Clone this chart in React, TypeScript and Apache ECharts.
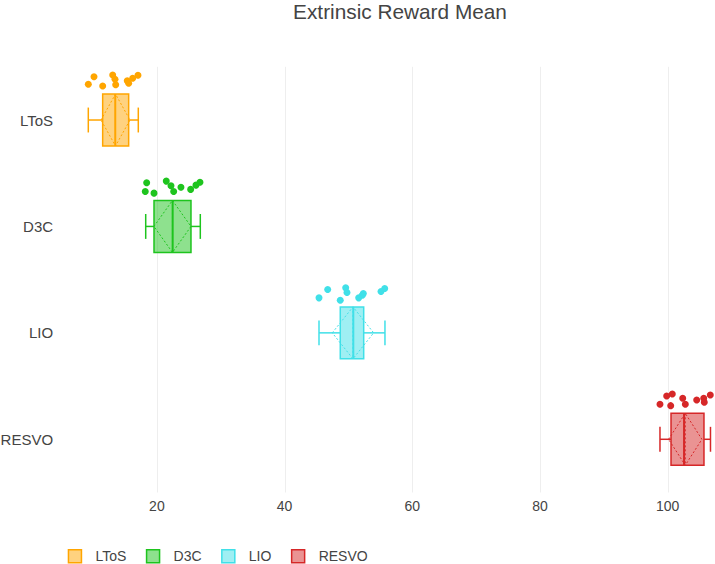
import React, { useEffect, useRef } from 'react';
import * as echarts from 'echarts';

const FONT = '"Liberation Sans", Arial, sans-serif';

const CATEGORIES = ['LToS', 'D3C', 'LIO', 'RESVO'];
const COLORS = ['rgb(255,165,0)', 'rgb(30,196,30)', 'rgb(64,224,232)', 'rgb(214,39,40)'];
const FILLS = ['rgba(255,165,0,0.5)', 'rgba(30,196,30,0.5)', 'rgba(64,224,232,0.5)', 'rgba(214,39,40,0.5)'];

const X_TICKS = [20, 40, 60, 80, 100];

// Box statistics per category
const WHISKER_LOW = [9.26, 18.25, 45.39, 98.79];
const Q1 = [11.51, 19.55, 48.72, 100.52];
const MEDIAN = [13.48, 22.47, 50.76, 102.56];
const Q3 = [15.58, 25.34, 52.39, 105.68];
const WHISKER_HIGH = [17.09, 26.8, 55.72, 106.7];
const MEAN = [13.52, 22.44, 50.71, 102.75];
const SD = [2.27, 2.9, 3.24, 2.61];

// Individual points and their vertical jitter (in category-band units)
const LTOS_POINTS = [9.26, 10.15, 11.51, 13.08, 13.44, 13.55, 15.36, 15.58, 16.21, 17.04];
const LTOS_JITTER = [-0.336, -0.407, -0.32, -0.423, -0.383, -0.332, -0.369, -0.345, -0.392, -0.42];
const D3C_POINTS = [18.4, 18.18, 19.55, 21.47, 22.21, 22.63, 23.77, 25.29, 26.12, 26.75];
const D3C_JITTER = [-0.41, -0.329, -0.313, -0.426, -0.382, -0.329, -0.369, -0.348, -0.388, -0.416];
const LIO_POINTS = [45.39, 46.75, 48.72, 49.57, 49.77, 51.61, 52.17, 52.33, 55.1, 55.68];
const LIO_JITTER = [-0.329, -0.408, -0.307, -0.423, -0.38, -0.329, -0.354, -0.37, -0.389, -0.417];
const RESVO_POINTS = [98.79, 99.84, 100.47, 100.72, 102.35, 102.76, 104.54, 105.64, 105.73, 106.67];
const RESVO_JITTER = [-0.329, -0.407, -0.316, -0.426, -0.385, -0.329, -0.369, -0.385, -0.348, -0.416];

const POINTS = [LTOS_POINTS, D3C_POINTS, LIO_POINTS, RESVO_POINTS];
const JITTER = [LTOS_JITTER, D3C_JITTER, LIO_JITTER, RESVO_JITTER];

function boxSeries(idx: number) {
  const color = COLORS[idx];
  return {
    type: 'custom',
    name: CATEGORIES[idx],
    xAxisIndex: 0,
    yAxisIndex: 1,
    z: 2,
    encode: { x: [1, 2, 3, 4, 5], y: 0 },
    data: [[idx, WHISKER_LOW[idx], Q1[idx], MEDIAN[idx], Q3[idx], WHISKER_HIGH[idx], MEAN[idx], SD[idx]]],
    renderItem: (params: any, api: any) => {
      const i = api.value(0);
      const lo = api.value(1);
      const q1 = api.value(2);
      const med = api.value(3);
      const q3 = api.value(4);
      const hi = api.value(5);
      const mean = api.value(6);
      const sd = api.value(7);
      const band = Math.abs(api.size([0, 1])[1]);
      const cy = api.coord([q1, i])[1];
      const X = (v: number) => api.coord([v, i])[0];
      const hb = band * 0.244;
      const hc = band * 0.117;
      const top = cy - hb;
      const bot = cy + hb;
      const solid = { stroke: color, lineWidth: 1.5, fill: null };
      const dashed = { stroke: color, lineWidth: 1, lineDash: [2, 2], fill: null };
      return {
        type: 'group',
        children: [
          { type: 'line', shape: { x1: X(lo), y1: cy, x2: X(q1), y2: cy }, style: solid },
          { type: 'line', shape: { x1: X(q3), y1: cy, x2: X(hi), y2: cy }, style: solid },
          { type: 'line', shape: { x1: X(lo), y1: cy - hc, x2: X(lo), y2: cy + hc }, style: solid },
          { type: 'line', shape: { x1: X(hi), y1: cy - hc, x2: X(hi), y2: cy + hc }, style: solid },
          {
            type: 'rect',
            shape: { x: X(q1), y: top, width: X(q3) - X(q1), height: bot - top },
            style: { fill: FILLS[idx], stroke: color, lineWidth: 1.5 },
          },
          {
            type: 'polygon',
            shape: {
              points: [
                [X(mean - sd), cy],
                [X(mean), top],
                [X(mean + sd), cy],
                [X(mean), bot],
              ],
            },
            style: dashed,
          },
          { type: 'line', shape: { x1: X(mean), y1: top, x2: X(mean), y2: bot }, style: dashed },
          { type: 'line', shape: { x1: X(med), y1: top, x2: X(med), y2: bot }, style: { stroke: color, lineWidth: 2 } },
        ],
      };
    },
  };
}

function pointSeries(idx: number) {
  return {
    type: 'scatter',
    name: CATEGORIES[idx],
    xAxisIndex: 0,
    yAxisIndex: 1,
    z: 3,
    symbol: 'circle',
    symbolSize: 7,
    itemStyle: { color: COLORS[idx], opacity: 1 },
    data: POINTS[idx].map((v, k) => [v, idx + JITTER[idx][k]]),
  };
}

export default function App() {
  const ref = useRef<HTMLDivElement>(null);
  useEffect(() => {
    if (!ref.current) return;
    const chart = echarts.init(ref.current, null, { renderer: 'svg' });
    const series: any[] = [
      {
        type: 'custom',
        name: 'gridlines',
        silent: true,
        z: 0,
        xAxisIndex: 0,
        yAxisIndex: 1,
        encode: { x: 0, y: 1 },
        data: X_TICKS.map((v) => [v, 0]),
        renderItem: (params: any, api: any) => {
          const x = Math.round(api.coord([api.value(0), 0])[0]) + 0.5;
          const cs = params.coordSys;
          return {
            type: 'line',
            shape: { x1: x, y1: cs.y, x2: x, y2: cs.y + cs.height },
            style: { stroke: '#eeeeee', lineWidth: 1 },
          };
        },
      },
    ];
    CATEGORIES.forEach((_, i) => {
      series.push(boxSeries(i));
      series.push(pointSeries(i));
    });
    chart.setOption({
      animation: false,
      backgroundColor: '#ffffff',
      textStyle: { fontFamily: FONT },
      title: {
        text: 'Extrinsic Reward Mean',
        left: 400,
        top: 1,
        textAlign: 'center',
        padding: 0,
        textStyle: { fontSize: 20.8, fontWeight: 'normal', color: '#444', fontFamily: FONT },
      },
      legend: {
        left: 67.7,
        top: 549,
        padding: 0,
        itemWidth: 13,
        itemHeight: 13,
        itemGap: 19.5,
        icon: 'rect',
        textStyle: { fontSize: 14, color: '#444', fontFamily: FONT, padding: [0, 0, 0, 9] },
        data: CATEGORIES.map((c, i) => ({
          name: c,
          icon: 'rect',
          itemStyle: { color: FILLS[i], borderColor: COLORS[i], borderWidth: 1.5 },
        })),
      },
      grid: {
        left: 61.1,
        right: 2.6,
        top: 66.8,
        bottom: 71.5,
        containLabel: false,
        outerBoundsMode: 'none',
      },
      xAxis: {
        type: 'value',
        min: 5,
        max: 107,
        splitNumber: 5,
        axisLine: { show: false },
        axisTick: { show: false },
        splitLine: { show: false },
        axisLabel: {
          showMinLabel: false,
          showMaxLabel: false,
          fontSize: 14,
          color: '#444',
          fontFamily: FONT,
          margin: 6,
          formatter: (v: number) => (X_TICKS.indexOf(v) >= 0 ? String(v) : ''),
        },
      },
      yAxis: [
        {
          type: 'category',
          data: CATEGORIES,
          inverse: true,
          boundaryGap: true,
          axisLine: { show: false },
          axisTick: { show: false },
          splitLine: { show: false },
          axisLabel: { fontSize: 15, color: '#444', fontFamily: FONT, margin: 8 },
        },
        { type: 'value', min: -0.5, max: 3.5, inverse: true, show: false },
      ],
      series,
    });
    return () => chart.dispose();
  }, []);
  return <div ref={ref} style={{ position: 'fixed', left: 0, top: 0, width: 715, height: 564 }} />;
}
